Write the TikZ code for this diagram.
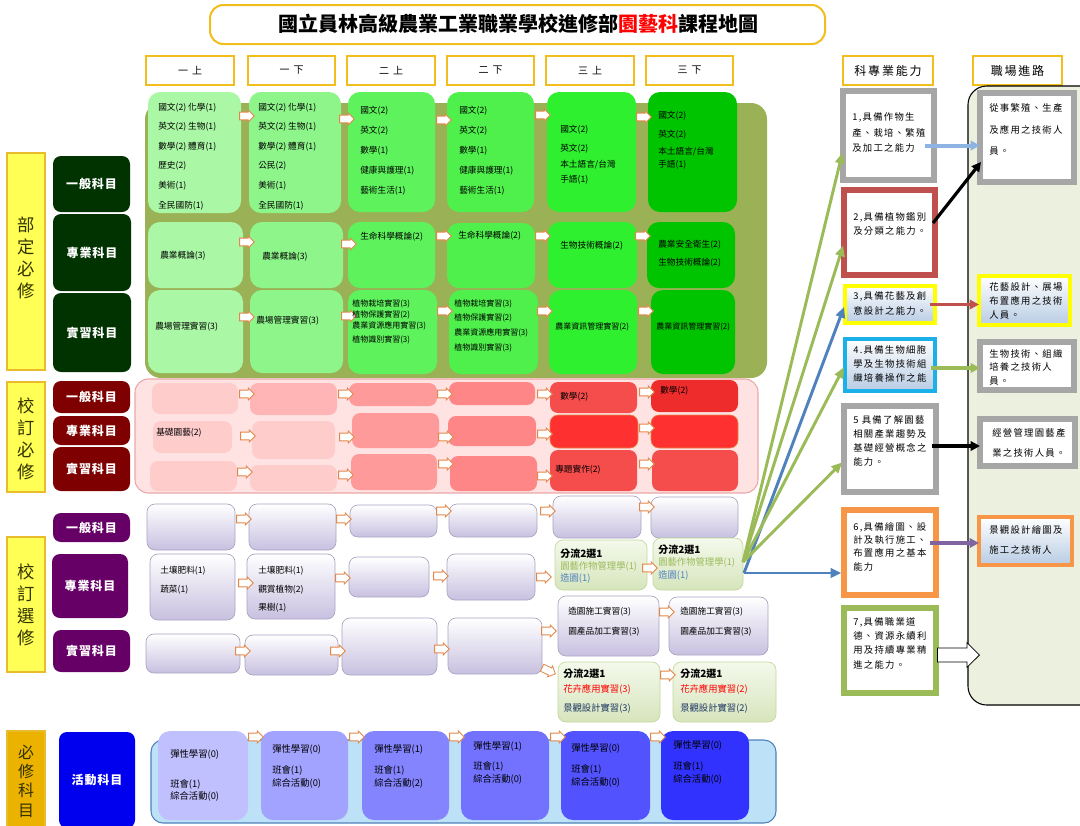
\documentclass[tikz,border=0pt]{standalone}
\usepackage{fontspec}
\setmainfont{Noto Sans CJK TC}
\usetikzlibrary{shapes.arrows,arrows.meta}
\definecolor{cOlive}{HTML}{9AB255}
\definecolor{cG1}{HTML}{AAF7A5}
\definecolor{cG2}{HTML}{8EF58A}
\definecolor{cG3}{HTML}{5EF25C}
\definecolor{cG4}{HTML}{4FF04C}
\definecolor{cG5}{HTML}{2EF02E}
\definecolor{cG6}{HTML}{00C400}
\definecolor{cPinkBg}{HTML}{FFE3E3}
\definecolor{cPinkBd}{HTML}{E8A8A8}
\definecolor{cP1}{HTML}{FFCCCC}
\definecolor{cP2}{HTML}{FFB5B5}
\definecolor{cP3}{HTML}{FF9A9A}
\definecolor{cP4}{HTML}{FF8686}
\definecolor{cP5}{HTML}{F54C4C}
\definecolor{cP6}{HTML}{EE2C2C}
\definecolor{cPr}{HTML}{FF3030}
\definecolor{cLav}{HTML}{C8C0E0}
\definecolor{cLavBd}{HTML}{A8A4C0}
\definecolor{cElT}{HTML}{F4F9EC}
\definecolor{cElB}{HTML}{D6E5BC}
\definecolor{cElBd}{HTML}{C4D79B}
\definecolor{cBlueBg}{HTML}{BDE2F8}
\definecolor{cBlueBd}{HTML}{4F81BD}
\definecolor{cB1}{HTML}{C0C0FF}
\definecolor{cB2}{HTML}{A2A2FF}
\definecolor{cB3}{HTML}{8484FF}
\definecolor{cB4}{HTML}{7272FF}
\definecolor{cB5}{HTML}{5252FF}
\definecolor{cB6}{HTML}{3232FF}
\definecolor{cDG}{HTML}{003300}
\definecolor{cDR}{HTML}{7F0000}
\definecolor{cPu}{HTML}{660066}
\definecolor{cBl}{HTML}{0000EE}
\definecolor{cYel}{HTML}{FFFF55}
\definecolor{cYelBd}{HTML}{E8BC2C}
\definecolor{cGold}{HTML}{EBB200}
\definecolor{cHdr}{HTML}{F2BE1E}
\definecolor{cGray}{HTML}{A6A6A6}
\definecolor{cRed}{HTML}{C0504D}
\definecolor{cYelB}{HTML}{FFFF00}
\definecolor{cCyan}{HTML}{1CB0E8}
\definecolor{cOrg}{HTML}{F79646}
\definecolor{cGrn}{HTML}{9BBB59}
\definecolor{cBlu}{HTML}{4F81BD}
\definecolor{cLBlu}{HTML}{8DB3E2}
\definecolor{cPur}{HTML}{8064A2}
\definecolor{cCarBg}{HTML}{EBF1DE}
\definecolor{cArr}{HTML}{E2874A}
\definecolor{cNavy}{HTML}{1F3864}
\definecolor{cGrad}{HTML}{B8CCE4}
\definecolor{cVt}{HTML}{333300}
\newcommand\bx[7]{\node[#6, inner sep=0pt, outer sep=0pt, minimum width={((#4)-(#2))*0.75pt}, minimum height={((#5)-(#3))*0.75pt}] (#1) at ({((#2)+(#4))/2},{((#3)+(#5))/2}) {#7};}
\newcounter{tn}
\newcommand\tl[4][]{\stepcounter{tn}\node[tx,#1] (tx\arabic{tn}) at (#2,#3) {#4};}
\newcommand\ha[3][0]{\stepcounter{tn}\node[harr,rotate=#1] (ar\arabic{tn}) at (#2,#3) {};}
\begin{document}
\begin{tikzpicture}[x=0.75pt,y=-0.75pt,
 tx/.style={anchor=west, inner sep=0pt, font=\fontsize{6.5}{7}\selectfont},
 txs/.style={font=\fontsize{6}{6.5}\selectfont},
 txa/.style={font=\fontsize{7}{7.5}\selectfont},
 txb/.style={font=\fontsize{7.5}{8}\selectfont\bfseries},
 harr/.style={single arrow, draw=cArr, fill=white, line width=0.6pt, inner sep=2.6pt, single arrow head extend=1.6pt, minimum height=11pt, single arrow head indent=0pt},
 hdr/.style={draw=cHdr, line width=1.2pt, fill=white, font=\fontsize{7.5}{8}\selectfont\addfontfeature{LetterSpace=40}},
 rhdr/.style={draw=cHdr, line width=1.2pt, fill=white, font=\fontsize{9}{9}\selectfont\addfontfeature{LetterSpace=15}},
 ylab/.style={fill=cYel, draw=cYelBd, line width=1pt},
 vt/.style={align=center, font=\fontsize{13}{16.5}\selectfont, text=cVt, inner sep=0pt},
 cat/.style={rounded corners=6pt, text=white, font=\fontsize{9}{9.5}\selectfont\bfseries\addfontfeature{LetterSpace=8}},
 gc/.style={rounded corners=9pt},
 pc/.style={rounded corners=6pt},
 lc/.style={rounded corners=6pt, draw=cLavBd, line width=0.5pt, top color=white, bottom color=cLav},
 ec/.style={rounded corners=6pt, draw=cElBd, line width=0.5pt, top color=cElT, bottom color=cElB},
 bc/.style={rounded corners=9pt},
 rb/.style={fill=white, line width=4.5pt},
 rbg/.style={top color=white, bottom color=cGrad, line width=3pt},
 rt/.style={anchor=west, inner sep=0pt, font=\fontsize{7}{8}\selectfont\addfontfeature{LetterSpace=14}},
 fan/.style={line width=2.2pt, -{Triangle[length=8pt,width=7pt]}, shorten >=2pt},
 rarr/.style={line width=2.4pt, -{Triangle[length=7pt,width=7pt]}}
]
\useasboundingbox (0,0) rectangle (1080,825);
% title
\bx{ttl}{210}{5}{825}{44}{draw=cHdr, line width=1.5pt, rounded corners=10pt, fill=white}{}
\node (ttltext) at (518,24) {\fontsize{15}{15}\selectfont\bfseries 國立員林高級農業工業職業學校進修部\textcolor{red}{園藝科}課程地圖};
% semester headers
\bx{sem1}{146}{56}{234}{85}{hdr}{一上}
\bx{sem2}{248}{56}{335}{85}{hdr}{一下}
\bx{sem3}{347}{56}{435}{85}{hdr}{二上}
\bx{sem4}{447}{56}{534}{85}{hdr}{二下}
\bx{sem5}{546}{56}{634}{85}{hdr}{三上}
\bx{sem6}{646}{56}{733}{85}{hdr}{三下}
\bx{hk}{843}{56}{933}{85}{rhdr}{科專業能力}
\bx{hj}{973}{56}{1062}{85}{rhdr}{職場進路}
% side labels
\bx{L1}{7}{153}{45}{370}{ylab}{}
\node[vt] (v1) at (26,258) {部\\定\\必\\修};
\bx{L2}{7}{382}{45}{492}{ylab}{}
\node[vt] (v2) at (26,439) {校\\訂\\必\\修};
\bx{L3}{7}{537}{45}{672}{ylab}{}
\node[vt] (v3) at (26,605) {校\\訂\\選\\修};
\bx{L4}{7}{731}{45}{828}{fill=cGold, draw=cYelBd, line width=1pt}{}
\node[vt, font=\fontsize{12}{14.5}\selectfont] (v4) at (26,781) {必\\修\\科\\目};
% category boxes
\bx{k1}{53}{156}{130}{212}{cat,fill=cDG}{一般科目}
\bx{k2}{53}{214}{131}{291}{cat,fill=cDG}{專業科目}
\bx{k3}{53}{293}{131}{372}{cat,fill=cDG}{實習科目}
\bx{k4}{53}{381}{130}{413}{cat,fill=cDR}{一般科目}
\bx{k5}{53}{416}{130}{445}{cat,fill=cDR}{專業科目}
\bx{k6}{53}{447}{130}{491}{cat,fill=cDR}{實習科目}
\bx{k7}{53}{513}{130}{542}{cat,fill=cPu}{一般科目}
\bx{k8}{52}{554}{128}{618}{cat,fill=cPu}{專業科目}
\bx{k9}{53}{630}{130}{672}{cat,fill=cPu}{實習科目}
\bx{k10}{59}{732}{135}{828}{cat,fill=cBl}{活動科目}
% backgrounds
\bx{bg1}{145}{103}{767}{378}{fill=cOlive, rounded corners=12pt}{}
\bx{bg2}{135}{379}{758}{493}{fill=cPinkBg, draw=cPinkBd, line width=0.8pt, rounded corners=10pt}{}
\bx{bg3}{151}{740}{776}{823}{fill=cBlueBg, draw=cBlueBd, line width=0.8pt, rounded corners=9pt}{}
% green cells
\bx{g11}{148}{92}{241}{213}{gc,fill=cG1}{}
\bx{g12}{249}{92}{341}{213}{gc,fill=cG2}{}
\bx{g13}{348}{92}{435}{212}{gc,fill=cG3}{}
\bx{g14}{447}{92}{534}{212}{gc,fill=cG4}{}
\bx{g15}{547}{92}{636}{212}{gc,fill=cG5}{}
\bx{g16}{648}{92}{737}{212}{gc,fill=cG6}{}
\bx{g21}{148}{222}{243}{288}{gc,fill=cG1}{}
\bx{g22}{250}{222}{343}{288}{gc,fill=cG2}{}
\bx{g23}{348}{222}{435}{288}{gc,fill=cG3}{}
\bx{g24}{447}{223}{535}{288}{gc,fill=cG4}{}
\bx{g25}{548}{222}{637}{288}{gc,fill=cG5}{}
\bx{g26}{647}{222}{735}{288}{gc,fill=cG6}{}
\bx{g31}{148}{290}{243}{373}{gc,fill=cG1}{}
\bx{g32}{250}{290}{343}{373}{gc,fill=cG2}{}
\bx{g33}{348}{290}{437}{374}{gc,fill=cG3}{}
\bx{g34}{449}{290}{538}{374}{gc,fill=cG4}{}
\bx{g35}{549}{290}{637}{374}{gc,fill=cG5}{}
\bx{g36}{651}{290}{735}{374}{gc,fill=cG6}{}
% pink cells
\bx{p11}{152}{383}{238}{414}{pc,fill=cP1}{}
\bx{p12}{250}{383}{337}{415}{pc,fill=cP2}{}
\bx{p13}{349}{383}{437}{406}{pc,fill=cP3}{}
\bx{p14}{449}{382}{535}{405}{pc,fill=cP4}{}
\bx{p15}{550}{382}{637}{413}{pc,fill=cP5}{}
\bx{p16}{651}{380}{738}{412}{pc,fill=cP6}{}
\bx{p21}{153}{421}{232}{453}{pc,fill=cP1}{}
\bx{p22}{252}{421}{335}{459}{pc,fill=cP1}{}
\bx{p23}{352}{413}{439}{448}{pc,fill=cP3}{}
\bx{p24}{448}{416}{536}{446}{pc,fill=cP4}{}
\bx{p25}{550}{415}{638}{448}{pc,fill=cPr,draw=cArr,line width=0.5pt}{}
\bx{p26}{651}{415}{738}{448}{pc,fill=cPr,draw=cArr,line width=0.5pt}{}
\bx{p31}{150}{461}{237}{491}{pc,fill=cP1}{}
\bx{p32}{250}{465}{337}{491}{pc,fill=cP1}{}
\bx{p33}{351}{454}{437}{490}{pc,fill=cP3}{}
\bx{p34}{450}{456}{537}{491}{pc,fill=cP4}{}
\bx{p35}{550}{450}{637}{491}{pc,fill=cP5}{}
\bx{p36}{652}{450}{738}{491}{pc,fill=cP5}{}
% lavender / elective cells
\bx{e11}{147}{504}{235}{550}{lc}{}
\bx{e12}{249}{504}{336}{550}{lc}{}
\bx{e13}{350}{505}{437}{537}{lc}{}
\bx{e14}{449}{504}{537}{537}{lc}{}
\bx{e15}{553}{496}{641}{538}{lc}{}
\bx{e16}{651}{497}{738}{538}{lc}{}
\bx{e21}{150}{554}{235}{620}{lc}{}
\bx{e22}{247}{554}{335}{619}{lc}{}
\bx{e23}{349}{557}{429}{597}{lc}{}
\bx{e24}{447}{554}{535}{600}{lc}{}
\bx{e25}{555}{540}{647}{590}{ec}{}
\bx{e26}{653}{538}{743}{590}{ec}{}
\bx{e31}{146}{634}{240}{673}{lc}{}
\bx{e32}{245}{635}{338}{675}{lc}{}
\bx{e33}{342}{618}{437}{675}{lc}{}
\bx{e34}{448}{618}{542}{674}{lc}{}
\bx{e35}{558}{596}{659}{656}{lc}{}
\bx{e36}{669}{597}{768}{655}{lc}{}
\bx{e45}{558}{662}{660}{722}{ec}{}
\bx{e46}{673}{662}{776}{722}{ec}{}
% activity cells
\bx{a1}{158}{731}{248}{820}{bc,fill=cB1}{}
\bx{a2}{261}{731}{348}{820}{bc,fill=cB2}{}
\bx{a3}{362}{731}{449}{820}{bc,fill=cB3}{}
\bx{a4}{461}{731}{549}{820}{bc,fill=cB4}{}
\bx{a5}{561}{731}{650}{820}{bc,fill=cB5}{}
\bx{a6}{661}{731}{749}{820}{bc,fill=cB6}{}
% hollow arrows
\ha{245}{116}\ha{345}{119}\ha{442}{120}\ha{541}{115}\ha{642}{117}
\ha{245}{242}\ha{347}{244}\ha{442}{236}\ha{541}{236}\ha{641}{236}
\ha{245}{317}\ha{347}{316}\ha{443}{311}\ha{543}{311}\ha{644}{311}
\ha{245}{394}\ha{344}{394}\ha{443}{394}\ha{543}{394}\ha{645}{392}
\ha{246}{436}\ha{345}{437}\ha{444}{437}\ha{543}{434}\ha{645}{428}
\ha{243}{472}\ha{344}{475}\ha{444}{464}\ha{543}{476}\ha{645}{464}
\ha{242}{519}\ha{342}{519}\ha{442}{511}\ha{546}{511}\ha{645}{507}
\ha{244}{583}\ha{341}{578}\ha{439}{576}\ha{542}{577}\ha{648}{568}
\ha{241}{651}\ha{336}{651}\ha{440}{649}\ha{547}{631}\ha[-25]{547}{670}\ha{665}{612}\ha{666}{675}
\ha{254}{737}\ha{355}{737}\ha{455}{737}\ha{556}{737}\ha{656}{737}
% texts row 1
\tl{158}{108}{國文(2) 化學(1)}\tl{158}{127}{英文(2) 生物(1)}\tl{158}{147}{數學(2) 體育(1)}
\tl{158}{166}{歷史(2)}\tl{158}{186}{美術(1)}\tl{158}{206}{全民國防(1)}
\tl{258}{108}{國文(2) 化學(1)}\tl{258}{127}{英文(2) 生物(1)}\tl{258}{147}{數學(2) 體育(1)}
\tl{258}{166}{公民(2)}\tl{258}{186}{美術(1)}\tl{258}{206}{全民國防(1)}
\tl{360}{111}{國文(2)}\tl{360}{131}{英文(2)}\tl{360}{151}{數學(1)}\tl{360}{171}{健康與護理(1)}\tl{360}{191}{藝術生活(1)}
\tl{459}{111}{國文(2)}\tl{459}{131}{英文(2)}\tl{459}{151}{數學(1)}\tl{459}{171}{健康與護理(1)}\tl{459}{191}{藝術生活(1)}
\tl{560}{130}{國文(2)}\tl{560}{149}{英文(2)}\tl{560}{165}{本土語言/台灣}\tl{560}{180}{手語(1)}
\tl{658}{116}{國文(2)}\tl{658}{135}{英文(2)}\tl{658}{152}{本土語言/台灣}\tl{658}{165}{手語(1)}
% row 2
\tl{160}{256}{農業概論(3)}\tl{262}{257}{農業概論(3)}
\tl{360}{237}{生命科學概論(2)}\tl{458}{236}{生命科學概論(2)}
\tl{560}{246}{生物技術概論(2)}
\tl{658}{245}{農業安全衛生(2)}\tl{658}{263}{生物技術概論(2)}
% row 3
\tl{155}{327}{農場管理實習(3)}\tl{256}{321}{農場管理實習(3)}
\tl[txs]{352}{304}{植物栽培實習(3)}\tl[txs]{352}{315}{植物保護實習(2)}\tl[txs]{352}{326}{農業資源應用實習(3)}\tl[txs]{352}{340}{植物識別實習(3)}
\tl[txs]{454}{304}{植物栽培實習(3)}\tl[txs]{454}{318}{植物保護實習(2)}\tl[txs]{454}{333}{農業資源應用實習(3)}\tl[txs]{454}{348}{植物識別實習(3)}
\tl[txs]{555}{327}{農業資訊管理實習(2)}\tl[txs]{656}{327}{農業資訊管理實習(2)}
% pink texts
\tl{560}{397}{數學(2)}\tl{660}{391}{數學(2)}\tl{156}{433}{基礎園藝(2)}\tl{555}{470}{專題實作(2)}
% elective texts
\tl{160}{571}{土壤肥料(1)}\tl{160}{590}{蔬菜(1)}
\tl{258}{571}{土壤肥料(1)}\tl{258}{590}{觀賞植物(2)}\tl{258}{608}{果樹(1)}
\tl[txb]{560}{554}{分流2選1}\tl[txa,text=cGrn]{560}{566}{園藝作物管理學(1)}\tl[txa,text=cBlu]{560}{578}{造園(1)}
\tl[txb]{658}{550}{分流2選1}\tl[txa,text=cGrn]{658}{562}{園藝作物管理學(1)}\tl[txa,text=cBlu]{658}{575}{造園(1)}
\tl{568}{612}{造園施工實習(3)}\tl{568}{632}{園產品加工實習(3)}
\tl{680}{612}{造園施工實習(3)}\tl{680}{632}{園產品加工實習(3)}
\tl[txb]{563}{674}{分流2選1}\tl[txa,text=red]{563}{689}{花卉應用實習(3)}\tl[txa,text=cNavy]{563}{708}{景觀設計實習(3)}
\tl[txb]{680}{674}{分流2選1}\tl[txa,text=red]{680}{689}{花卉應用實習(2)}\tl[txa,text=cNavy]{680}{708}{景觀設計實習(2)}
% activity texts
\tl[txa]{170}{754}{彈性學習(0)}\tl[txa]{170}{784}{班會(1)}\tl[txa]{170}{796}{綜合活動(0)}
\tl[txa]{272}{749}{彈性學習(0)}\tl[txa]{272}{770}{班會(1)}\tl[txa]{272}{783}{綜合活動(0)}
\tl[txa]{374}{749}{彈性學習(1)}\tl[txa]{374}{770}{班會(1)}\tl[txa]{374}{783}{綜合活動(2)}
\tl[txa]{473}{746}{彈性學習(1)}\tl[txa]{473}{766}{班會(1)}\tl[txa]{473}{779}{綜合活動(0)}
\tl[txa]{571}{748}{彈性學習(0)}\tl[txa]{571}{769}{班會(1)}\tl[txa]{571}{782}{綜合活動(0)}
\tl[txa]{673}{745}{彈性學習(0)}\tl[txa]{673}{766}{班會(1)}\tl[txa]{673}{779}{綜合活動(0)}
% right side
\bx{car}{968}{86}{1100}{705}{draw=black, line width=0.8pt, fill=cCarBg, rounded corners=14pt}{}
\bx{b1}{843}{91}{934}{180}{rb,draw=cGray}{}
\bx{b2}{844}{190}{935}{275}{rb,draw=cRed}{}
\bx{b3}{845}{286}{935}{323}{rbg,draw=cYelB}{}
\bx{b4}{845}{339}{935}{391}{rbg,draw=cCyan}{}
\bx{b5}{844}{406}{936}{492}{rb,draw=cGray}{}
\bx{b6}{844}{510}{936}{595}{rb,draw=cOrg}{}
\bx{b7}{844}{608}{936}{693}{rb,draw=cGrn}{}
\bx{j1}{980}{93}{1074}{182}{rb,draw=cGray}{}
\bx{j2}{979}{276}{1070}{325}{rbg,draw=cYelB}{}
\bx{j3}{980}{342}{1074}{390}{rb,draw=cGray}{}
\bx{j4}{980}{419}{1075}{466}{rb,draw=cGray}{}
\bx{j5}{979}{517}{1072}{565}{rbg,draw=cOrg}{}
\tl[rt]{852}{117}{1,具備作物生}\tl[rt]{852}{133}{產、栽培、繁殖}\tl[rt]{852}{148}{及加工之能力}
\tl[rt]{853}{217}{2,具備植物鑑別}\tl[rt]{853}{231}{及分類之能力。}
\tl[rt]{853}{296}{3,具備花藝及創}\tl[rt]{853}{311}{意設計之能力。}
\tl[rt]{853}{350}{4.具備生物細胞}\tl[rt]{853}{364}{學及生物技術組}\tl[rt]{853}{378}{織培養操作之能}
\tl[rt]{853}{420}{5 具備了解園藝}\tl[rt]{853}{434}{相關產業趨勢及}\tl[rt]{853}{448}{基礎經營概念之}\tl[rt]{853}{462}{能力。}
\tl[rt]{853}{527}{6,具備繪圖、設}\tl[rt]{853}{540}{計及執行施工、}\tl[rt]{853}{553}{布置應用之基本}\tl[rt]{853}{567}{能力}
\tl[rt]{853}{622}{7,具備職業道}\tl[rt]{853}{636}{德、資源永續利}\tl[rt]{853}{650}{用及持續專業精}\tl[rt]{853}{665}{進之能力。}
\tl[rt]{989}{108}{從事繁殖、生產}\tl[rt]{989}{130}{及應用之技術人}\tl[rt]{989}{151}{員。}
\tl[rt]{989}{287}{花藝設計、展場}\tl[rt]{989}{301}{布置應用之技術}\tl[rt]{989}{315}{人員。}
\tl[rt]{989}{354}{生物技術、組織}\tl[rt]{989}{367}{培養之技術人}\tl[rt]{989}{381}{員。}
\tl[rt]{992}{433}{經營管理園藝產}\tl[rt]{992}{453}{業之技術人員。}
\tl[rt]{989}{530}{景觀設計繪圖及}\tl[rt]{989}{550}{施工之技術人}
% right arrows
\draw[rarr, cLBlu, line width=3pt] ([shift={(-9,10)}]b1.east) coordinate (pa) -- (pa -| j1.west);
\draw[rarr, black] ([shift={(-2,-9.5)}]b2.east) -- ([shift={(1,-20)}]j1.south west);
\draw[rarr, cRed] ([xshift=-4pt]b3.east) coordinate (pb) -- (pb -| j2.west);
\draw[rarr, cGrn] ([shift={(-4,3)}]b4.east) coordinate (pc) -- (pc -| j3.west);
\draw[rarr, black] ([shift={(-4,-3)}]b5.east) coordinate (pd) -- (pd -| j4.west);
\draw[rarr, cPur] ([shift={(-6,-9.5)}]b6.east) coordinate (pe) -- (pe -| j5.west);
\node[single arrow, draw=black, fill=white, line width=0.6pt, inner sep=5pt, single arrow head extend=4pt, minimum height=31.5pt, anchor=west] (wa) at ([shift={(1,4.5)}]b7.east) {};
% fan lines
\coordinate (fg) at (743,562);
\coordinate (fb) at (744,573);
\draw[fan, cGrn] (fg) -- (b1.198);
\draw[fan, cGrn] (fg) -- (b2.193);
\draw[fan, cBlu] (fb) -- (b3.west);
\draw[fan, cGrn] (fg) -- (b4.west);
\draw[fan, cGrn] (fg) -- (b5.194);
\draw[fan, cBlu] (fb) -- (fb -| b6.west);
\end{tikzpicture}
\end{document}
